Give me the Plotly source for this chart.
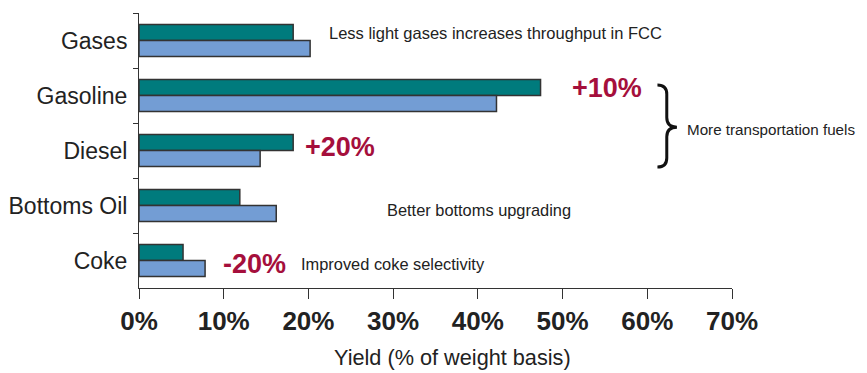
import plotly.graph_objects as go

categories = ["Gases", "Gasoline", "Diesel", "Bottoms Oil", "Coke"]
new_catalyst = [18.2, 47.4, 18.2, 11.9, 5.2]
base_catalyst = [20.2, 42.2, 14.3, 16.2, 7.8]
tick_vals = [0, 10, 20, 30, 40, 50, 60, 70]
tick_text = ["0%", "10%", "20%", "30%", "40%", "50%", "60%", "70%"]

TEAL = "#007B7D"
BLUE = "#739DD4"
RED = "#A50F3C"
EDGE = "#333333"
FONT = "Liberation Sans, Arial, sans-serif"

fig = go.Figure()
fig.add_trace(go.Bar(y=categories, x=new_catalyst, orientation="h", name="New",
                     marker=dict(color=TEAL, line=dict(color=EDGE, width=1.5))))
fig.add_trace(go.Bar(y=categories, x=base_catalyst, orientation="h", name="Base",
                     marker=dict(color=BLUE, line=dict(color=EDGE, width=1.5))))

fig.update_layout(
    width=867, height=373,
    margin=dict(l=139, r=135, t=13, b=85),
    paper_bgcolor="white", plot_bgcolor="white",
    barmode="group", bargap=0.42, bargroupgap=0,
    showlegend=False,
    font=dict(family=FONT, color="#222222"),
)
fig.update_xaxes(range=[0, 70], tickvals=tick_vals, ticktext=tick_text, automargin=False,
                 showgrid=False, zeroline=False, showline=True, linecolor=EDGE, linewidth=1,
                 ticks="outside", ticklen=10, tickcolor=EDGE,
                 tickfont=dict(size=26, family=FONT, color="#222222", weight="bold"))
fig.update_yaxes(autorange="reversed", showgrid=False, zeroline=False, automargin=False,
                 showline=True, linecolor=EDGE, linewidth=1,
                 ticks="outside", ticklen=5, tickcolor=EDGE, tickson="boundaries",
                 ticklabelstandoff=6,
                 tickfont=dict(size=23, family=FONT, color="#222222"))

def note(x, y, text, size, color="#222222", bold=False):
    fig.add_annotation(x=x, y=y, xref="x", yref="paper", text=text, showarrow=False,
                       xanchor="left", yanchor="middle",
                       font=dict(size=size, family=FONT, color=color,
                                 weight="bold" if bold else "normal"))

note(22.2, 0.927, "Less light gases increases throughput in FCC", 16.5)
note(50.9, 0.727, "+10%", 27, RED, True)
note(64.4, 0.575, "More transportation fuels", 15.2)
note(19.4, 0.513, "+20%", 27, RED, True)
note(29.0, 0.284, "Better bottoms upgrading", 16.4)
note(9.7, 0.087, "-20%", 27, RED, True)
note(18.9, 0.087, "Improved coke selectivity", 16.4)

fig.add_annotation(x=37, y=-0.251, xref="x", yref="paper", text="Yield (% of weight basis)",
                   showarrow=False, xanchor="center", yanchor="middle",
                   font=dict(size=21.7, family=FONT, color="#222222"))

fig.add_shape(type="path", xref="x", yref="paper",
              path="M 61.2,0.738 Q 62.3,0.738 62.3,0.705 L 62.3,0.62 Q 62.3,0.585 63.5,0.585 "
                   "Q 62.3,0.585 62.3,0.55 L 62.3,0.473 Q 62.3,0.44 61.2,0.44",
              line=dict(color="#111111", width=3))

fig.write_html("out.html")
